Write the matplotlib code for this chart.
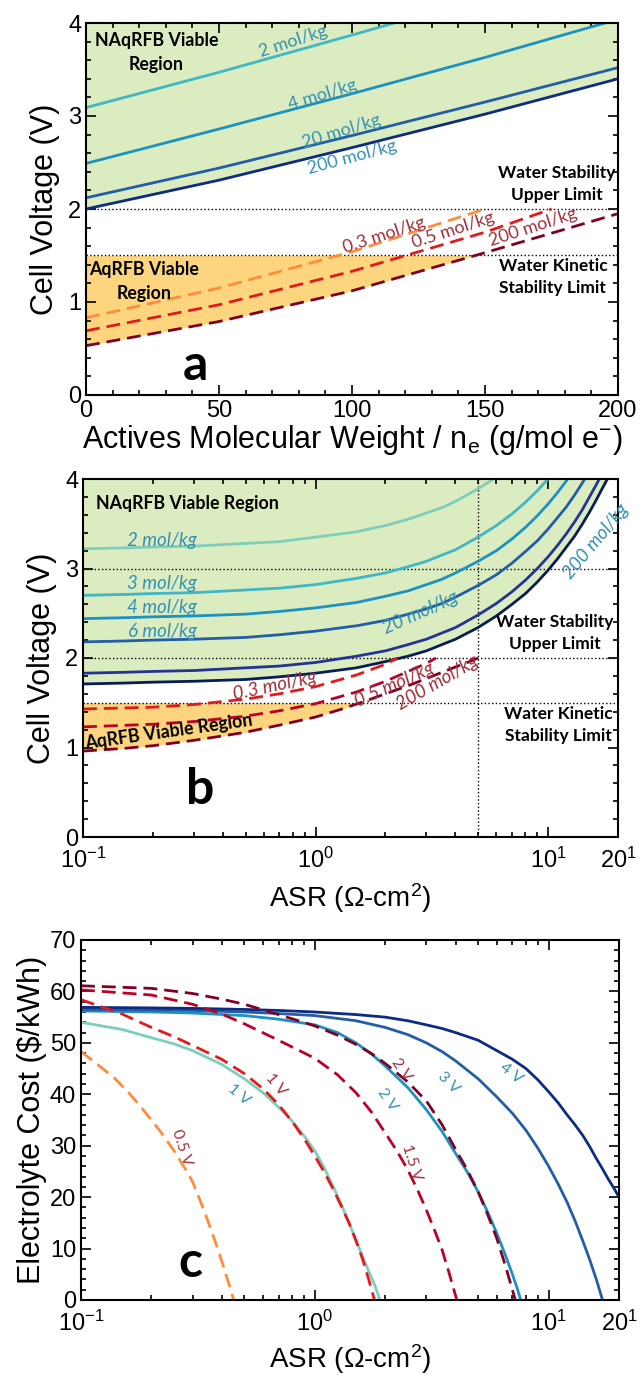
import numpy as np
import matplotlib
matplotlib.use("Agg")
import matplotlib.pyplot as plt
from matplotlib.ticker import FixedLocator, MultipleLocator, NullFormatter

plt.rcParams['font.family'] = ['Liberation Sans', 'DejaVu Sans']
plt.rcParams['mathtext.fontset'] = 'custom'
plt.rcParams['mathtext.rm'] = 'Liberation Sans'
plt.rcParams['mathtext.it'] = 'Liberation Sans:italic'

# ---- panel a data: cell voltage vs molecular weight / n_e ----
mw = [0, 50, 100, 150, 200]
a_2mol = [3.09, 3.47, 3.87, 4.28, 4.70]
a_4mol = [2.49, 2.86, 3.24, 3.63, 4.04]
a_20mol = [2.12, 2.44, 2.79, 3.15, 3.52]
a_200mol = [2.00, 2.31, 2.66, 3.02, 3.40]
mw_03 = [0, 50, 100, 150]
a_aq03 = [0.83, 1.15, 1.54, 2.00]
mw_05 = [0, 50, 100, 150, 175]
a_aq05 = [0.69, 0.97, 1.33, 1.75, 2.00]
a_aq200 = [0.53, 0.79, 1.12, 1.53, 1.95]

# ---- panel b data: cell voltage vs ASR ----
asr = [0.1, 0.15, 0.2, 0.3, 0.5, 0.7, 1, 1.5, 2, 2.5, 3, 3.5, 4, 5, 6, 7, 8, 9, 10,
       11, 12, 13, 14, 15, 16, 17, 18, 19, 20]
b_2mol = [3.22, 3.23, 3.24, 3.25, 3.28, 3.30, 3.35, 3.41, 3.48, 3.55, 3.62, 3.68, 3.75, 3.89, 4.02,
          4.16, 4.29, 4.43, 4.56, 4.70, 4.83, 4.97, 5.10, 5.24, 5.37, 5.51, 5.64, 5.78, 5.91]
b_3mol = [2.70, 2.71, 2.72, 2.73, 2.76, 2.78, 2.82, 2.89, 2.95, 3.02, 3.08, 3.15, 3.21, 3.35, 3.48,
          3.61, 3.74, 3.87, 4.00, 4.13, 4.26, 4.39, 4.52, 4.66, 4.79, 4.92, 5.05, 5.18, 5.31]
b_4mol = [2.44, 2.45, 2.46, 2.47, 2.49, 2.52, 2.56, 2.62, 2.69, 2.75, 2.82, 2.88, 2.95, 3.08, 3.20,
          3.33, 3.46, 3.59, 3.72, 3.85, 3.98, 4.11, 4.24, 4.37, 4.49, 4.62, 4.75, 4.88, 5.01]
b_6mol = [2.18, 2.19, 2.20, 2.21, 2.23, 2.26, 2.30, 2.36, 2.42, 2.49, 2.55, 2.61, 2.68, 2.81, 2.93,
          3.06, 3.19, 3.31, 3.44, 3.57, 3.69, 3.82, 3.95, 4.08, 4.20, 4.33, 4.46, 4.58, 4.71]
b_20mol = [1.83, 1.84, 1.85, 1.86, 1.89, 1.91, 1.95, 2.02, 2.08, 2.15, 2.21, 2.28, 2.34, 2.48, 2.61,
           2.74, 2.87, 3.00, 3.13, 3.26, 3.39, 3.52, 3.65, 3.79, 3.92, 4.05, 4.18, 4.31, 4.44]
b_200mol = [1.71, 1.72, 1.73, 1.74, 1.76, 1.79, 1.83, 1.89, 1.96, 2.02, 2.08, 2.15, 2.21, 2.34, 2.47,
            2.60, 2.72, 2.85, 2.98, 3.11, 3.24, 3.36, 3.49, 3.62, 3.75, 3.88, 4.00, 4.13, 4.26]
asr_03 = [0.1, 0.2, 0.3, 0.5, 0.7, 1, 1.5, 2, 2.25]
b_aq03 = [1.43, 1.45, 1.48, 1.54, 1.60, 1.68, 1.81, 1.93, 2.00]
asr_05 = [0.1, 0.2, 0.3, 0.5, 0.7, 1, 1.5, 2, 2.5, 3, 3.3]
b_aq05 = [1.23, 1.26, 1.29, 1.35, 1.41, 1.49, 1.62, 1.74, 1.85, 1.94, 2.00]
asr_200 = [0.1, 0.15, 0.2, 0.3, 0.4, 0.5, 0.7, 1, 1.3, 1.6, 2, 2.5, 3, 3.5, 4, 4.5, 5]
b_aq200 = [0.96, 0.99, 1.02, 1.08, 1.13, 1.17, 1.25, 1.34, 1.43, 1.51, 1.60, 1.69, 1.77, 1.84,
           1.90, 1.95, 2.00]

# ---- panel c data: electrolyte cost vs ASR ----
c_asr_1v = [0.1, 0.15, 0.2, 0.25, 0.3, 0.4, 0.5, 0.6, 0.7, 0.8, 0.9, 1.0, 1.1, 1.2, 1.3, 1.4,
            1.5, 1.6, 1.7, 1.8, 1.85, 1.9]
c_1v = [54, 52.6, 51, 49.8, 48.5, 45.8, 43, 40.3, 37.5, 34.8, 31.9, 29, 25.6, 22, 18.5, 15,
        11.7, 8.5, 5.6, 3, 1.5, 0]
c_asr_2v = [0.1, 0.2, 0.3, 0.5, 0.7, 1, 1.25, 1.5, 1.75, 2, 2.5, 3, 3.5, 4, 4.5, 5, 5.5, 6,
            6.5, 7, 7.3, 7.6]
c_2v = [56.2, 56, 55.8, 55.3, 54.6, 53.5, 52, 50, 47.8, 45.5, 41.3, 37, 32.8, 28.5, 24.8, 21,
        17, 13, 9, 5, 2.6, 0]
c_asr_3v = [0.1, 0.2, 0.3, 0.5, 0.7, 1, 1.5, 2, 2.5, 3, 3.5, 4, 5, 6, 7, 8, 9, 10, 11, 12, 13,
            14, 15, 16, 16.5, 17]
c_3v = [56.5, 56.4, 56.3, 56, 55.7, 55.3, 54.3, 53, 51.6, 50, 48.3, 46.5, 43, 39.5, 36.3, 33,
        29.5, 26, 22.5, 19, 15.3, 11.5, 7.8, 4, 2, 0]
c_asr_4v = [0.1, 0.2, 0.3, 0.5, 0.7, 1, 1.5, 2, 2.5, 3, 3.5, 4, 5, 6, 7, 8, 9, 10, 11, 12, 13,
            14, 15, 16, 17, 18, 19, 20]
c_4v = [56.9, 56.8, 56.7, 56.5, 56.3, 56, 55.5, 55, 54.3, 53.5, 52.8, 52, 50.5, 48.5, 46.8, 45,
        42.8, 40.5, 38.3, 36, 34, 32, 29.8, 27.5, 25.5, 23.5, 21.8, 20]
c_asr_05aq = [0.1, 0.12, 0.14, 0.16, 0.18, 0.2, 0.22, 0.25, 0.28, 0.3, 0.33, 0.35, 0.38, 0.4,
              0.43, 0.45]
c_05aq = [48.3, 45.5, 43, 40.3, 37.6, 35, 32.6, 29, 25.4, 23, 18.3, 15.2, 10.6, 7.5, 3, 0]
c_asr_1aq = [0.1, 0.15, 0.2, 0.25, 0.3, 0.4, 0.5, 0.6, 0.7, 0.8, 0.9, 1, 1.1, 1.2, 1.3, 1.4,
             1.5, 1.6, 1.7, 1.8]
c_1aq = [58.4, 55.6, 53, 51.2, 49.5, 46.8, 44, 41.1, 38, 34.7, 31.4, 28, 24.8, 21.5, 18.2, 15,
         11.5, 8, 4, 0]
c_asr_15aq = [0.1, 0.2, 0.3, 0.4, 0.5, 0.7, 1, 1.25, 1.5, 1.75, 2, 2.25, 2.5, 2.75, 3, 3.25,
              3.5, 3.75, 4.05]
c_15aq = [60.3, 59.3, 57.5, 55.6, 53.7, 50.5, 47, 43.8, 40.3, 36.5, 32.5, 28.9, 25.3, 21.4,
          17.5, 13.6, 9.8, 5.3, 0]
c_asr_2aq = [0.1, 0.2, 0.3, 0.4, 0.5, 0.7, 1, 1.25, 1.5, 1.75, 2, 2.5, 3, 3.5, 4, 4.5, 5, 5.5,
             6, 6.5, 7, 7.2]
c_2aq = [61.1, 60.6, 59.6, 58.5, 57.5, 55.5, 53.3, 51.5, 49.7, 47.9, 46, 42.4, 38.7, 34.1,
         29.3, 25.2, 21, 16.5, 12, 7, 2, 0]

GREEN = '#dbedc0'
ORANGE = '#fdd57e'
TEAL_TXT = '#3590b4'
RED_TXT = '#a0303a'
ANN = ['Lato', 'DejaVu Sans']
DASH = (0, (5, 2.5))

fig = plt.figure(figsize=(6.44, 13.8), dpi=100)


def style_axes(ax):
    for s in ax.spines.values():
        s.set_linewidth(1.5)
    ax.tick_params(which='both', direction='in', top=True, right=True, labelsize=17, width=1.2)
    ax.tick_params(which='major', length=7)
    ax.tick_params(which='minor', length=3.5)


def log_ticks(ax):
    ax.set_xscale('log')
    ax.set_xlim(0.1, 20)
    ax.xaxis.set_major_locator(FixedLocator([0.1, 1, 10, 20]))
    ax.set_xticklabels([r'$10^{-1}$', r'$10^{0}$', r'$10^{1}$', r'$20^{1}$'])
    ax.xaxis.set_minor_locator(FixedLocator([0.2, 0.3, 0.4, 0.5, 0.6, 0.7, 0.8, 0.9,
                                             2, 3, 4, 5, 6, 7, 8, 9]))
    ax.xaxis.set_minor_formatter(NullFormatter())


# ================= panel a =================
ax = fig.add_axes([86 / 644, 1 - 395 / 1380, 532 / 644, 372 / 1380])
ax.fill_between(mw, a_200mol, 4, color=GREEN, lw=0)
a200 = np.array(a_aq200)
ax.fill_between(mw, a200, 1.5, where=a200 <= 1.5, interpolate=True, color=ORANGE, lw=0)
ax.axhline(2.0, color='k', ls=':', lw=1)
ax.axhline(1.5, color='k', ls=':', lw=1)
ax.plot(mw, a_2mol, color='#41b6c4', lw=2)
ax.plot(mw, a_4mol, color='#1d91c0', lw=2)
ax.plot(mw, a_20mol, color='#225ea8', lw=2)
ax.plot(mw, a_200mol, color='#0c2c84', lw=2)
ax.plot(mw_03, a_aq03, color='#fd8d3c', lw=2, ls=DASH)
ax.plot(mw_05, a_aq05, color='#e31a1c', lw=2, ls=DASH)
ax.plot(mw, a_aq200, color='#800026', lw=2, ls=DASH)
ax.set_xlim(0, 200)
ax.set_ylim(0, 4)
ax.xaxis.set_major_locator(MultipleLocator(50))
ax.xaxis.set_minor_locator(MultipleLocator(10))
ax.yaxis.set_major_locator(MultipleLocator(1))
ax.yaxis.set_minor_locator(MultipleLocator(0.2))
style_axes(ax)
ax.set_xlabel(r'Actives Molecular Weight / n$_\mathregular{e}$ (g/mol e$^{-}$)', fontsize=22, labelpad=1)
ax.set_ylabel('Cell Voltage (V)', fontsize=22, labelpad=6)
kw = dict(ha='center', va='center', rotation_mode='anchor', family=ANN)
ax.text(26.5, 3.68, 'NAqRFB Viable\nRegion', fontsize=12.8, weight='bold', linespacing=1.5, **kw)
ax.text(78, 3.80, '2 mol/kg', fontsize=13, color=TEAL_TXT, rotation=18, **kw)
ax.text(89, 3.23, '4 mol/kg', fontsize=13, color=TEAL_TXT, rotation=17, **kw)
ax.text(96, 2.83, '20 mol/kg', fontsize=13, color=TEAL_TXT, rotation=17, **kw)
ax.text(100, 2.55, '200 mol/kg', fontsize=13, color=TEAL_TXT, rotation=15, **kw)
ax.text(177, 2.27, 'Water Stability\nUpper Limit', fontsize=12.5, weight='bold', linespacing=1.5, **kw)
ax.text(175.5, 1.27, 'Water Kinetic\nStability Limit', fontsize=12.5, weight='bold', linespacing=1.5, **kw)
ax.text(112, 1.72, '0.3 mol/kg', fontsize=13, color=RED_TXT, rotation=18, **kw)
ax.text(138, 1.77, '0.5 mol/kg', fontsize=13, color=RED_TXT, rotation=18, **kw)
ax.text(168, 1.80, '200 mol/kg', fontsize=13, color=RED_TXT, rotation=18, **kw)
ax.text(22, 1.22, 'AqRFB Viable\nRegion', fontsize=12.8, weight='bold', linespacing=1.5, **kw)
ax.text(41, 0.32, 'a', fontsize=36, weight='bold', **kw)

# ================= panel b =================
ax = fig.add_axes([83 / 644, 1 - 837 / 1380, 535 / 644, 358 / 1380])
ax.fill_between(asr, b_200mol, 4, color=GREEN, lw=0)
b200 = np.array(b_aq200)
ax.fill_between(asr_200, b200, 1.5, where=b200 <= 1.5, interpolate=True, color=ORANGE, lw=0)
for yv in (3.0, 2.0, 1.5):
    ax.axhline(yv, color='k', ls=':', lw=1)
ax.axvline(5, color='k', ls=':', lw=1)
ax.plot(asr, b_2mol, color='#7fcdbb', lw=2)
ax.plot(asr, b_3mol, color='#41b6c4', lw=2)
ax.plot(asr, b_4mol, color='#1d91c0', lw=2)
ax.plot(asr, b_6mol, color='#225ea8', lw=2)
ax.plot(asr, b_20mol, color='#253494', lw=2)
ax.plot(asr, b_200mol, color='#081d58', lw=2)
ax.plot(asr_03, b_aq03, color='#e31a1c', lw=2, ls=DASH)
ax.plot(asr_05, b_aq05, color='#bd0026', lw=2, ls=DASH)
ax.plot(asr_200, b_aq200, color='#800026', lw=2, ls=DASH)
log_ticks(ax)
ax.set_ylim(0, 4)
ax.yaxis.set_major_locator(MultipleLocator(1))
ax.yaxis.set_minor_locator(MultipleLocator(0.2))
style_axes(ax)
ax.tick_params(axis='x', which='major', pad=8)
ax.set_xlabel(r'ASR ($\Omega$-cm$^{2}$)', fontsize=20, labelpad=6)
ax.set_ylabel('Cell Voltage (V)', fontsize=22, labelpad=6)
ax.text(0.114, 3.73, 'NAqRFB Viable Region', fontsize=12.8, weight='bold', ha='left', va='center', family=ANN)
ikw = dict(kw, style='italic', color=TEAL_TXT, fontsize=13.5)
ax.text(0.219, 3.31, '2 mol/kg', **ikw)
ax.text(0.219, 2.83, '3 mol/kg', **ikw)
ax.text(0.219, 2.56, '4 mol/kg', **ikw)
ax.text(0.219, 2.30, '6 mol/kg', **ikw)
ax.text(2.84, 2.51, '20 mol/kg', rotation=24, **ikw)
ax.text(16, 3.30, '200 mol/kg', rotation=50, **ikw)
rkw = dict(kw, style='italic', color=RED_TXT, fontsize=13.5)
ax.text(0.67, 1.69, '0.3 mol/kg', rotation=12, **rkw)
ax.text(2.18, 1.70, '0.5 mol/kg', rotation=24, **rkw)
ax.text(3.33, 1.72, '200 mol/kg', rotation=30, **rkw)
ax.text(10.7, 2.28, 'Water Stability\nUpper Limit', fontsize=12.5, weight='bold', linespacing=1.5, **kw)
ax.text(11.1, 1.25, 'Water Kinetic\nStability Limit', fontsize=12.5, weight='bold', linespacing=1.5, **kw)
ax.text(0.234, 1.17, 'AqRFB Viable Region', fontsize=12.8, weight='bold', rotation=8, **kw)
ax.text(0.318, 0.53, 'b', fontsize=36, weight='bold', **kw)

# ================= panel c =================
ax = fig.add_axes([81 / 644, 1 - 1300 / 1380, 538 / 644, 360 / 1380])
ax.plot(c_asr_1v, c_1v, color='#7fcdbb', lw=2)
ax.plot(c_asr_2v, c_2v, color='#1d91c0', lw=2)
ax.plot(c_asr_3v, c_3v, color='#225ea8', lw=2)
ax.plot(c_asr_4v, c_4v, color='#0c2c84', lw=2)
ax.plot(c_asr_05aq, c_05aq, color='#fd8d3c', lw=2, ls=DASH)
ax.plot(c_asr_1aq, c_1aq, color='#e31a1c', lw=2, ls=DASH)
ax.plot(c_asr_15aq, c_15aq, color='#bd0026', lw=2, ls=DASH)
ax.plot(c_asr_2aq, c_2aq, color='#800026', lw=2, ls=DASH)
log_ticks(ax)
ax.set_ylim(0, 70)
ax.yaxis.set_major_locator(MultipleLocator(10))
ax.yaxis.set_minor_locator(MultipleLocator(2))
style_axes(ax)
ax.tick_params(axis='x', which='major', pad=8)
ax.set_xlabel(r'ASR ($\Omega$-cm$^{2}$)', fontsize=20, labelpad=4)
ax.set_ylabel('Electrolyte Cost ($/kWh)', fontsize=22, labelpad=2)
ckw = dict(kw, fontsize=11.5)
ax.text(6.9, 44.0, '4 V', color=TEAL_TXT, rotation=-38, **ckw)
ax.text(3.74, 42.2, '3 V', color=TEAL_TXT, rotation=-45, **ckw)
ax.text(2.05, 38.9, '2 V', color=TEAL_TXT, rotation=-55, **ckw)
ax.text(0.473, 39.9, '1 V', color=TEAL_TXT, rotation=-40, **ckw)
ax.text(0.681, 41.8, '1 V', color=RED_TXT, rotation=-50, **ckw)
ax.text(2.35, 44.7, '2 V', color=RED_TXT, rotation=-55, **ckw)
ax.text(2.6, 26.7, '1.5 V', color=RED_TXT, rotation=-72, **ckw)
ax.text(0.27, 29.6, '0.5 V', color=RED_TXT, rotation=-72, **ckw)
ax.text(0.295, 7.2, 'c', fontsize=36, weight='bold', **kw)

fig.savefig('out.png', dpi=100)
